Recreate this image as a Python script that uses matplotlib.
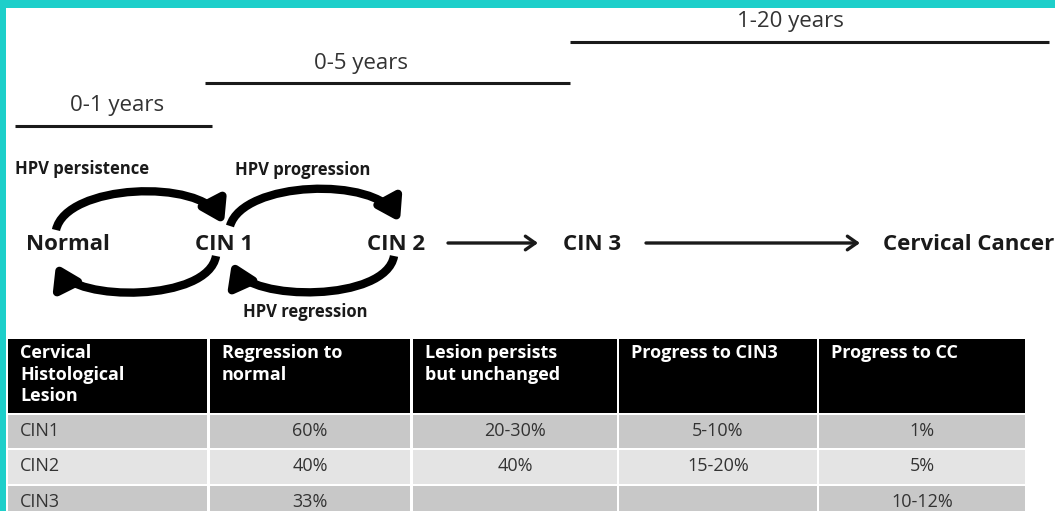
import matplotlib.pyplot as plt
from matplotlib.patches import Rectangle, FancyArrowPatch
from matplotlib.path import Path

# timeline spans
span_labels = ["1-20 years", "0-5 years", "0-1 years"]
span_label_x = [790, 361, 117]
span_x0 = [570, 205, 15]
span_x1 = [1049, 570, 212]
span_y = [42, 83, 126]

# diagram stages
stages = ["Normal", "CIN 1", "CIN 2", "CIN 3", "Cervical Cancer"]
stage_x = [26, 195, 367, 563, 883]

# table
header = ["Cervical\nHistological\nLesion", "Regression to\nnormal",
          "Lesion persists\nbut unchanged", "Progress to CIN3", "Progress to CC"]
lesions = ["CIN1", "CIN2", "CIN3"]
regression = ["60%", "40%", "33%"]
persists = ["20-30%", "40%", ""]
to_cin3 = ["5-10%", "15-20%", ""]
to_cc = ["1%", "5%", "10-12%"]

teal = "#1dcfca"
ink = "#1a1a1a"
plt.rcParams['font.family'] = ['Open Sans', 'DejaVu Sans']

fig = plt.figure(figsize=(10.55, 5.11), dpi=100)
ax = fig.add_axes([0, 0, 1, 1])
ax.set_xlim(0, 1055)
ax.set_ylim(511, 0)
ax.axis('off')

# teal frame
ax.add_patch(Rectangle((0, 0), 1055, 8, color=teal, lw=0))
ax.add_patch(Rectangle((0, 0), 6, 511, color=teal, lw=0))

# timeline bars
for lab, lx, x0, x1, y in zip(span_labels, span_label_x, span_x0, span_x1, span_y):
    ax.plot([x0, x1], [y, y], color=ink, lw=2.2, solid_capstyle='butt')
    ax.text(lx, y - 20, lab, ha='center', va='center', fontsize=16, color="#333333")

# stage labels
for s, x in zip(stages, stage_x):
    ax.text(x, 244, s, ha='left', va='center', fontsize=16, fontweight='bold', color=ink)

ax.text(15, 169, "HPV persistence", fontsize=12, fontweight='bold', color=ink, va='center')
ax.text(235, 170, "HPV progression", fontsize=12, fontweight='bold', color=ink, va='center')
ax.text(243, 312, "HPV regression", fontsize=12, fontweight='bold', color=ink, va='center')

# curved cycle arrows (cubic bezier: start, ctrl1, ctrl2, end)
loops = [[(56, 230), (66, 184), (200, 178), (224, 224)],
         [(216, 256), (208, 302), (75, 302), (56, 264)],
         [(230, 226), (243, 181), (375, 176), (400, 222)],
         [(394, 256), (386, 302), (250, 302), (232, 262)]]
codes = [Path.MOVETO, Path.CURVE4, Path.CURVE4, Path.CURVE4]
for pts in loops:
    ax.add_patch(FancyArrowPatch(path=Path(pts, codes),
                                 arrowstyle="-|>,head_length=0.65,head_width=0.42",
                                 lw=6, color="black", mutation_scale=20,
                                 capstyle='butt'))

# straight arrows
for x0, x1 in [(448, 538), (646, 860)]:
    ax.add_patch(FancyArrowPatch((x0, 243), (x1, 243),
                                 arrowstyle="->,head_length=0.5,head_width=0.35",
                                 lw=2.4, color=ink, mutation_scale=14, shrinkA=0, shrinkB=0))

# table
col_x = [8, 210, 413, 619, 819]
col_w = [199, 200, 204, 198, 206]
head_top, head_h = 339, 74
row_top = [415, 450, 486]
row_h = [33, 34, 30]
row_colors = ["#c8c8c8", "#e4e4e4", "#c8c8c8"]
for j, h in enumerate(header):
    ax.add_patch(Rectangle((col_x[j], head_top), col_w[j], head_h, color="black", lw=0))
    ax.text(col_x[j] + 12, head_top + 5, h, ha='left', va='top', fontsize=13,
            fontweight='bold', color="white", linespacing=1.25)
cols = [lesions, regression, persists, to_cin3, to_cc]
for i in range(len(lesions)):
    y = row_top[i]
    for j in range(5):
        ax.add_patch(Rectangle((col_x[j], y), col_w[j], row_h[i], color=row_colors[i], lw=0))
        val = cols[j][i]
        if j == 0:
            ax.text(col_x[j] + 12, y + 16, val, ha='left', va='center', fontsize=13, color="#333333")
        else:
            ax.text(col_x[j] + col_w[j] / 2, y + 16, val, ha='center', va='center',
                    fontsize=13, color="#333333")

fig.savefig("out.png", dpi=100)
